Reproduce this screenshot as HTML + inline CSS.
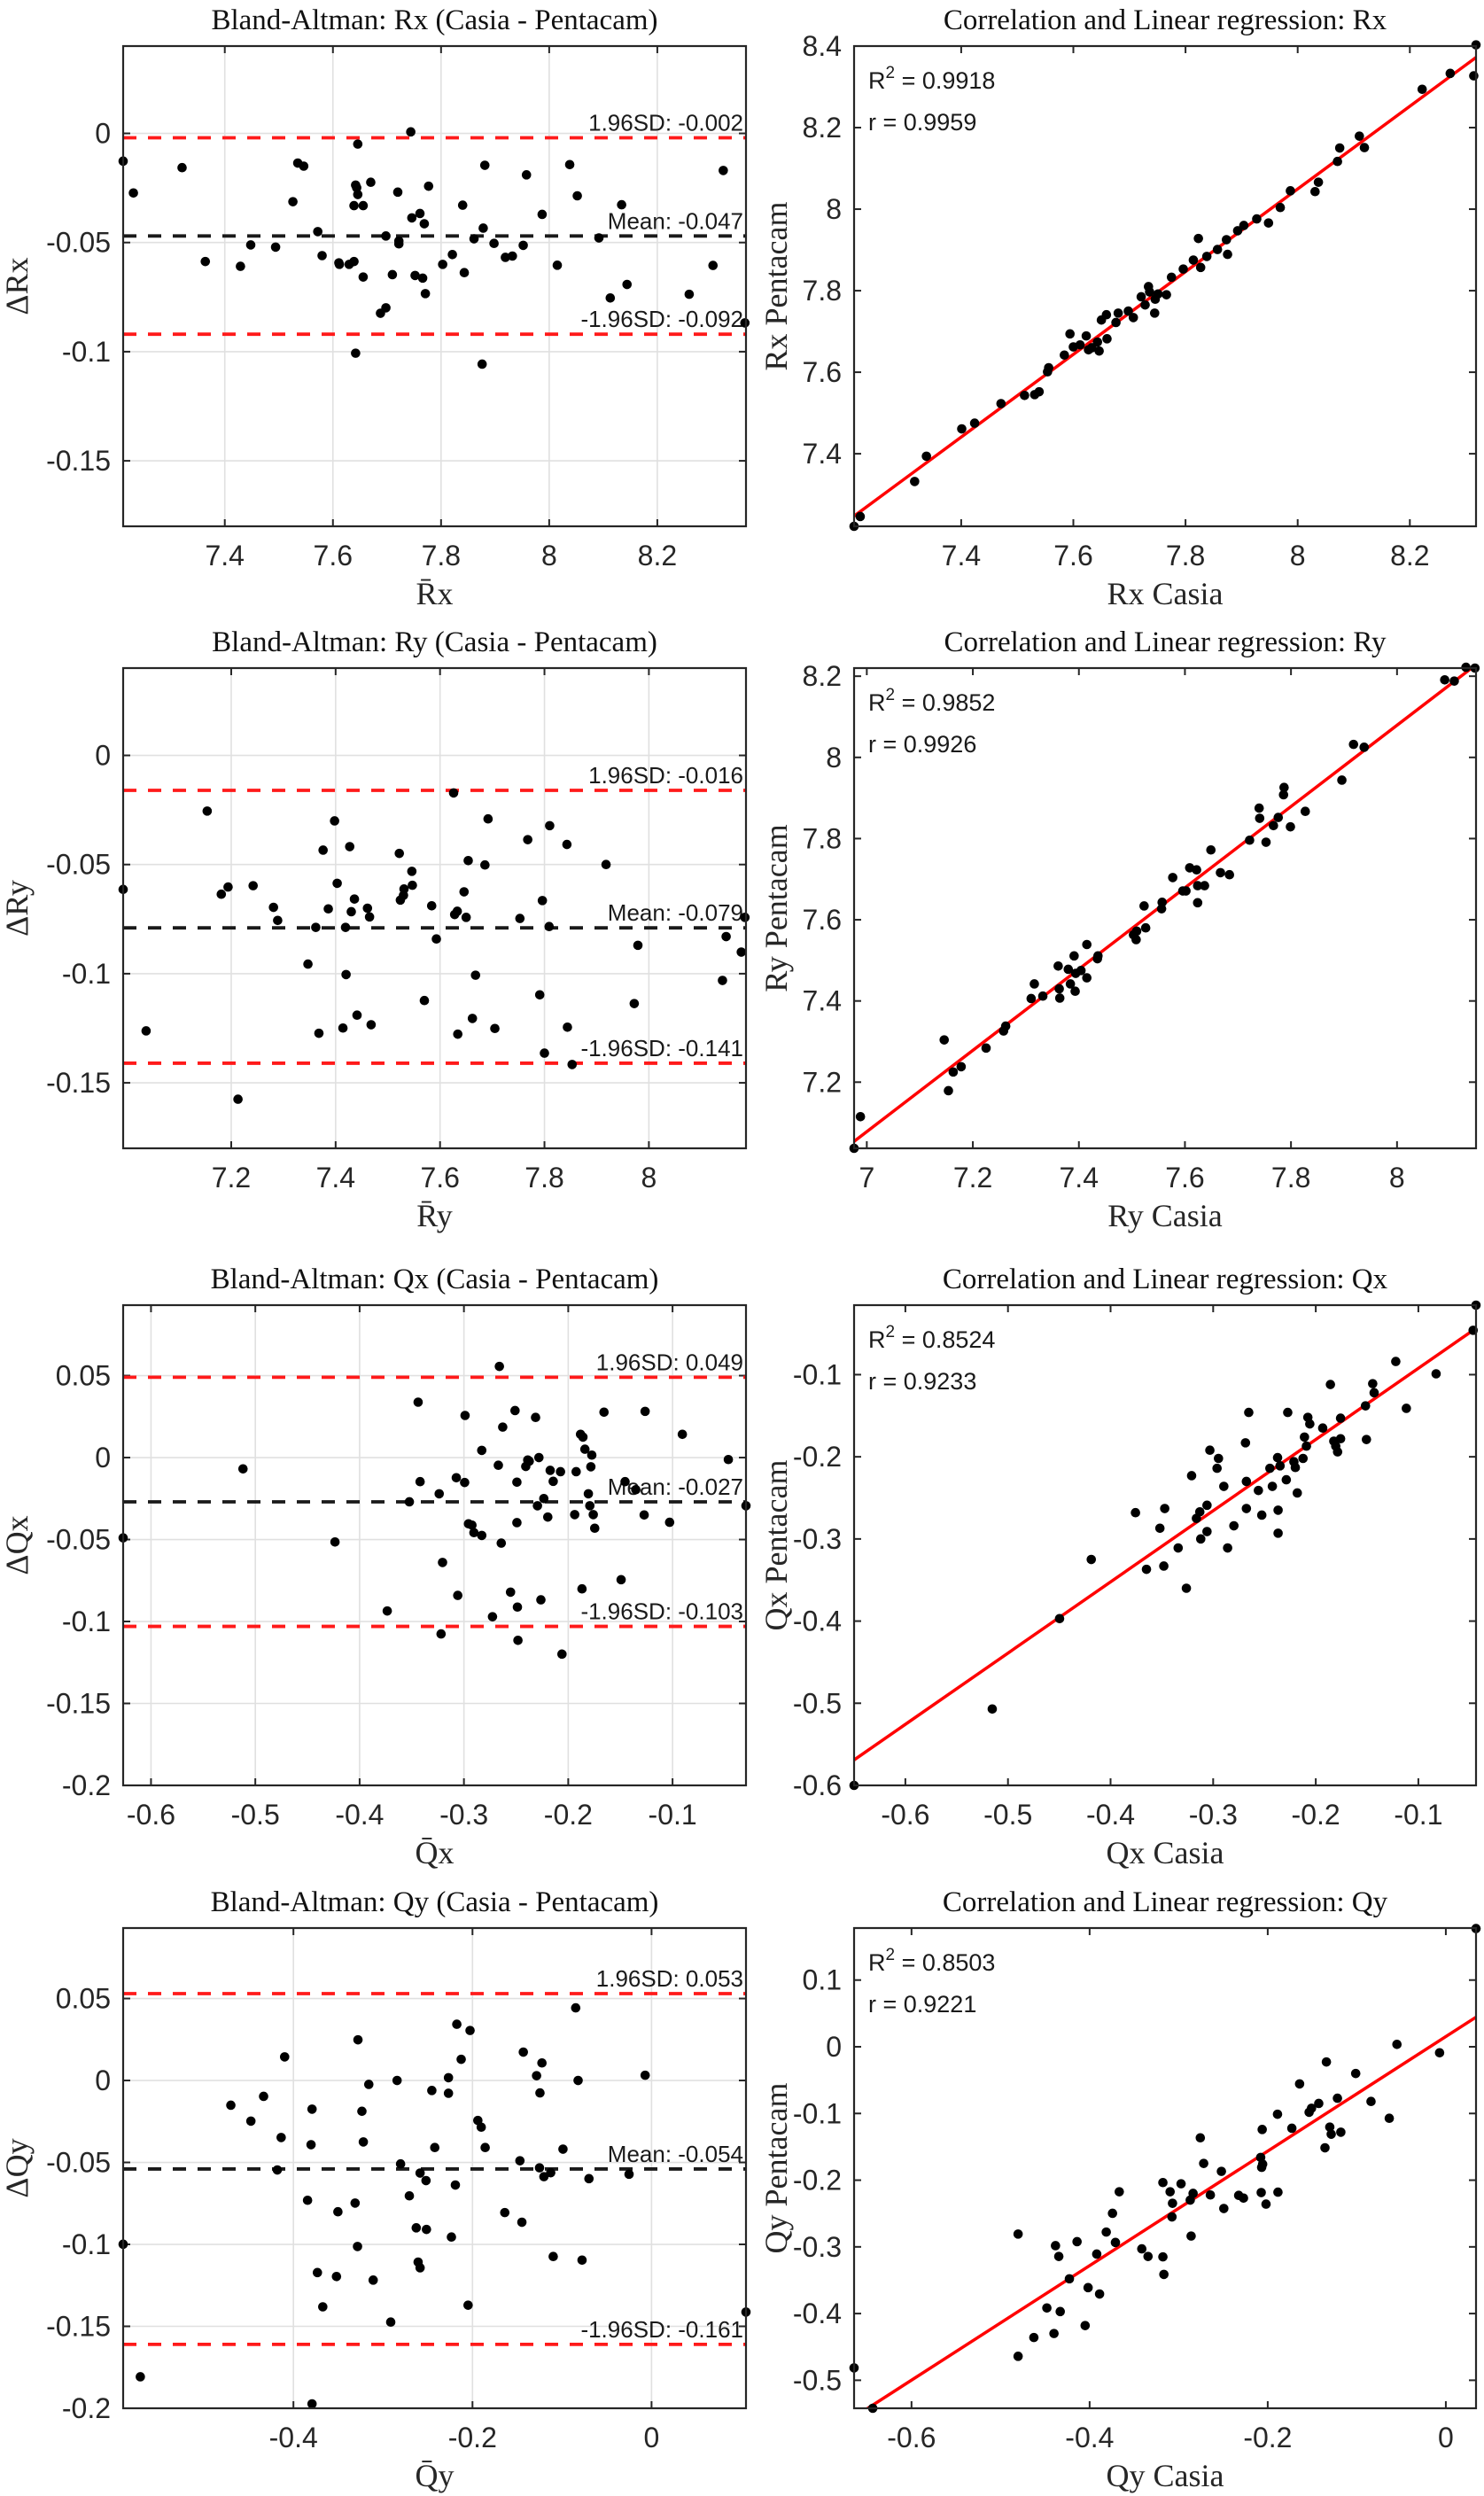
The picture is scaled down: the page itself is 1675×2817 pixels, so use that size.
<!DOCTYPE html>
<html><head><meta charset="utf-8"><style>
html,body{margin:0;padding:0;background:#fff;}
svg{display:block;}
</style></head><body>
<svg id="fig" xmlns="http://www.w3.org/2000/svg" width="1675" height="2817" viewBox="0 0 1675 2817"></svg>
<script>
// ---- Rx Bland-Altman
const rxBaMean=[7.212,7.231,7.321,7.364,7.429,7.448,7.494,7.526,7.535,7.546,7.572,7.580,7.611,7.612,7.630,7.639,7.639,7.642,7.644,7.646,7.646,7.642,7.656,7.656,7.670,7.688,7.698,7.698,7.710,7.720,7.722,7.722,7.746,7.752,7.761,7.766,7.769,7.771,7.777,7.744,7.803,7.821,7.840,7.843,7.861,7.878,7.881,7.876,7.898,7.919,7.932,7.952,7.958,7.987,8.015,8.038,8.052,8.092,8.113,8.134,8.144,8.259,8.303,8.322,8.362];
const rxBaDiff=[-0.0127,-0.0273,-0.0157,-0.0587,-0.0609,-0.0511,-0.0521,-0.0313,-0.0136,-0.0150,-0.0450,-0.0560,-0.0593,-0.0600,-0.0600,-0.0331,-0.0587,-0.0237,-0.0249,-0.0280,-0.0049,-0.1007,-0.0331,-0.0658,-0.0224,-0.0824,-0.0799,-0.0470,-0.0647,-0.0269,-0.0506,-0.0493,-0.0387,-0.0651,-0.0367,-0.0663,-0.0414,-0.0734,-0.0242,0.0007,-0.0600,-0.0555,-0.0329,-0.0638,-0.0483,-0.0434,-0.0146,-0.1057,-0.0504,-0.0568,-0.0562,-0.0513,-0.0190,-0.0371,-0.0604,-0.0143,-0.0286,-0.0479,-0.0754,-0.0327,-0.0692,-0.0737,-0.0605,-0.0170,-0.0868];
const rxBaLines=[-0.002,-0.047,-0.092];
// ---- Rx correlation
const rxCasia=[7.209,7.220,7.317,7.338,7.401,7.424,7.471,7.513,7.531,7.539,7.554,7.556,7.584,7.594,7.600,7.612,7.623,7.627,7.633,7.643,7.646,7.650,7.659,7.660,7.676,7.680,7.698,7.707,7.721,7.728,7.734,7.736,7.745,7.746,7.751,7.766,7.775,7.796,7.814,7.823,7.827,7.838,7.857,7.875,7.873,7.893,7.904,7.927,7.948,7.969,7.987,8.031,8.037,8.071,8.075,8.110,8.119,8.222,8.272,8.314,8.318];
const rxPenta=[7.222,7.246,7.332,7.394,7.461,7.475,7.523,7.543,7.545,7.552,7.601,7.611,7.642,7.694,7.662,7.667,7.689,7.655,7.660,7.674,7.652,7.728,7.741,7.682,7.722,7.745,7.750,7.734,7.785,7.765,7.810,7.797,7.745,7.779,7.792,7.790,7.833,7.853,7.875,7.928,7.857,7.884,7.901,7.889,7.925,7.947,7.960,7.976,7.966,8.004,8.045,8.043,8.066,8.117,8.150,8.179,8.151,8.294,8.333,8.327,8.403];
// ---- Ry Bland-Altman
const ryBaMean=[6.993,7.037,7.154,7.181,7.194,7.213,7.242,7.281,7.289,7.347,7.362,7.368,7.376,7.386,7.398,7.403,7.414,7.419,7.420,7.427,7.430,7.436,7.441,7.461,7.465,7.468,7.522,7.524,7.530,7.531,7.546,7.547,7.570,7.584,7.593,7.626,7.628,7.633,7.634,7.646,7.650,7.654,7.662,7.668,7.686,7.692,7.705,7.753,7.768,7.791,7.796,7.800,7.809,7.810,7.843,7.844,7.853,7.918,7.972,7.979,8.141,8.148,8.177,8.184];
const ryBaDiff=[-0.0614,-0.1262,-0.0255,-0.0636,-0.0603,-0.1575,-0.0597,-0.0696,-0.0756,-0.0956,-0.0788,-0.1273,-0.0434,-0.0703,-0.0300,-0.0586,-0.1249,-0.0788,-0.1004,-0.0418,-0.0716,-0.0658,-0.1190,-0.0700,-0.0740,-0.1234,-0.0449,-0.0663,-0.0641,-0.0612,-0.0531,-0.0595,-0.1123,-0.0689,-0.0841,-0.0172,-0.0729,-0.0714,-0.1277,-0.0625,-0.0742,-0.0482,-0.1205,-0.1007,-0.0502,-0.0291,-0.1251,-0.0747,-0.0386,-0.1097,-0.0665,-0.1364,-0.0784,-0.0322,-0.0408,-0.1245,-0.1416,-0.0500,-0.1137,-0.0870,-0.1031,-0.0830,-0.0901,-0.0742];
const ryBaLines=[-0.016,-0.079,-0.141];
// ---- Ry correlation
const ryCasia=[6.976,6.988,7.146,7.154,7.163,7.178,7.225,7.258,7.262,7.310,7.316,7.332,7.361,7.363,7.364,7.380,7.384,7.391,7.393,7.394,7.404,7.415,7.415,7.435,7.436,7.503,7.508,7.509,7.523,7.526,7.556,7.557,7.577,7.596,7.602,7.609,7.622,7.624,7.624,7.637,7.649,7.667,7.684,7.722,7.740,7.741,7.753,7.767,7.776,7.786,7.787,7.799,7.827,7.896,7.918,7.938,8.090,8.108,8.130,8.147];
const ryPenta=[7.037,7.115,7.304,7.179,7.225,7.238,7.284,7.326,7.338,7.406,7.442,7.412,7.486,7.430,7.407,7.478,7.442,7.511,7.424,7.468,7.475,7.539,7.457,7.504,7.511,7.563,7.551,7.572,7.634,7.580,7.627,7.643,7.704,7.671,7.671,7.728,7.723,7.642,7.684,7.684,7.772,7.716,7.711,7.796,7.875,7.850,7.791,7.832,7.852,7.908,7.926,7.829,7.867,7.944,8.032,8.025,8.191,8.188,8.222,8.220];
// ---- Qx Bland-Altman
const qxBaMean=[-0.6267,-0.5118,-0.4236,-0.3735,-0.3523,-0.3439,-0.3420,-0.3237,-0.3205,-0.3219,-0.3073,-0.3059,-0.2993,-0.2989,-0.2956,-0.2923,-0.2904,-0.2829,-0.2829,-0.2670,-0.2660,-0.2642,-0.2628,-0.2726,-0.2553,-0.2510,-0.2492,-0.2492,-0.2487,-0.2482,-0.2407,-0.2388,-0.2374,-0.2313,-0.2295,-0.2281,-0.2262,-0.2234,-0.2196,-0.2173,-0.2144,-0.2074,-0.2060,-0.1938,-0.1924,-0.1882,-0.1868,-0.1859,-0.1840,-0.1807,-0.1793,-0.1783,-0.1774,-0.1760,-0.1746,-0.1657,-0.1493,-0.1455,-0.1352,-0.1272,-0.1263,-0.1028,-0.0906,-0.0465,-0.0296];
const qxBaDiff=[-0.0490,-0.0069,-0.0515,-0.0936,-0.0270,0.0338,-0.0147,-0.0221,-0.0640,-0.1076,-0.0123,-0.0841,-0.0152,0.0257,-0.0404,-0.0412,-0.0458,0.0044,-0.0475,-0.0047,0.0556,-0.0522,0.0186,-0.0971,-0.0821,0.0287,-0.0150,-0.0397,-0.0912,-0.1115,-0.0054,-0.0015,-0.0022,0.0245,-0.0294,0.0000,-0.0868,-0.0250,-0.0363,-0.0078,-0.0145,-0.0086,-0.1199,-0.0348,-0.0086,0.0142,-0.0801,0.0125,0.0051,-0.0221,-0.0294,-0.0056,0.0015,-0.0348,-0.0431,0.0277,-0.0745,-0.0147,-0.0196,-0.0350,0.0282,-0.0395,0.0142,-0.0012,-0.0294];
const qxBaLines=[0.049,-0.027,-0.103];
// ---- Qx correlation
const qxCasia=[-0.650,-0.5153,-0.4497,-0.4188,-0.3757,-0.3650,-0.3519,-0.3481,-0.3472,-0.3341,-0.3261,-0.3210,-0.3163,-0.3130,-0.3121,-0.3060,-0.3060,-0.3032,-0.2962,-0.2948,-0.2896,-0.2859,-0.2798,-0.2685,-0.2676,-0.2676,-0.2653,-0.2559,-0.2526,-0.2447,-0.2423,-0.2372,-0.2367,-0.2367,-0.2348,-0.2287,-0.2273,-0.2213,-0.2199,-0.2180,-0.2124,-0.2110,-0.2091,-0.2077,-0.2058,-0.1932,-0.1857,-0.1824,-0.1805,-0.1787,-0.1758,-0.1758,-0.1515,-0.1506,-0.1445,-0.1431,-0.1220,-0.1117,-0.0827,-0.0466,-0.0438];
const qxPenta=[-0.600,-0.507,-0.397,-0.325,-0.268,-0.337,-0.287,-0.333,-0.263,-0.311,-0.360,-0.223,-0.275,-0.267,-0.300,-0.259,-0.291,-0.192,-0.214,-0.202,-0.236,-0.311,-0.284,-0.183,-0.230,-0.263,-0.146,-0.241,-0.271,-0.214,-0.236,-0.201,-0.265,-0.293,-0.211,-0.228,-0.146,-0.206,-0.213,-0.244,-0.202,-0.176,-0.187,-0.152,-0.160,-0.165,-0.112,-0.181,-0.187,-0.194,-0.153,-0.178,-0.138,-0.179,-0.111,-0.122,-0.084,-0.141,-0.099,-0.046,-0.0154];
// ---- Qy Bland-Altman
const qyBaMean=[-0.5902,-0.5710,-0.4699,-0.4475,-0.4333,-0.4180,-0.4137,-0.4098,-0.3842,-0.3803,-0.3792,-0.3792,-0.3732,-0.3672,-0.3519,-0.3503,-0.3311,-0.3284,-0.3279,-0.3219,-0.3235,-0.3158,-0.3109,-0.2913,-0.2842,-0.2803,-0.2705,-0.2628,-0.2607,-0.2585,-0.2585,-0.2519,-0.2514,-0.2454,-0.2421,-0.2268,-0.2268,-0.2235,-0.2191,-0.2175,-0.2126,-0.2049,-0.2027,-0.1940,-0.1902,-0.1858,-0.1639,-0.1470,-0.1448,-0.1432,-0.1284,-0.1251,-0.1246,-0.1224,-0.1202,-0.1126,-0.1098,-0.0989,-0.0847,-0.0820,-0.0776,-0.0699,-0.0251,-0.0071,0.1055];
const qyBaDiff=[-0.0999,-0.1808,-0.0151,-0.0248,-0.0097,-0.0546,-0.0348,0.0144,-0.0731,-0.0392,-0.0175,-0.1973,-0.1172,-0.1381,-0.1196,-0.0801,-0.0748,-0.1013,0.0248,-0.0375,-0.0188,-0.0024,-0.1218,-0.1474,0.0000,-0.0509,-0.0704,-0.0899,-0.1108,-0.0565,-0.1143,-0.0611,-0.0909,-0.0061,-0.0409,0.0017,-0.0078,-0.0955,-0.0638,0.0343,0.0129,-0.1371,0.0305,-0.0244,-0.0285,-0.0409,-0.0806,-0.0490,-0.0865,0.0173,0.0029,-0.0533,-0.0076,0.0107,-0.0587,-0.0563,-0.1074,-0.0419,0.0443,0.0000,-0.1096,-0.0599,-0.0572,0.0032,-0.1413];
const qyBaLines=[0.053,-0.054,-0.161];
// ---- Qy correlation
const qyCasia=[-0.6645,-0.6435,-0.4803,-0.4803,-0.4626,-0.4480,-0.4400,-0.4383,-0.4346,-0.4330,-0.4227,-0.4141,-0.4050,-0.4017,-0.3920,-0.3888,-0.3813,-0.3743,-0.3710,-0.3667,-0.3414,-0.3344,-0.3177,-0.3177,-0.3166,-0.3096,-0.3075,-0.3069,-0.2973,-0.2870,-0.2860,-0.2838,-0.2757,-0.2719,-0.2644,-0.2520,-0.2493,-0.2326,-0.2272,-0.2079,-0.2073,-0.2068,-0.2062,-0.2057,-0.2019,-0.1890,-0.1885,-0.1729,-0.1642,-0.1535,-0.1508,-0.1427,-0.1357,-0.1341,-0.1303,-0.1287,-0.1217,-0.1179,-0.1012,-0.0840,-0.0635,-0.0549,-0.0070,0.0339];
const qyPenta=[-0.4814,-0.5420,-0.2808,-0.4641,-0.4359,-0.3916,-0.4299,-0.2982,-0.3144,-0.3970,-0.3479,-0.2922,-0.4180,-0.3611,-0.3108,-0.3707,-0.2778,-0.2497,-0.2934,-0.2174,-0.3030,-0.3144,-0.2036,-0.3150,-0.3413,-0.2174,-0.2551,-0.2347,-0.2054,-0.2299,-0.2838,-0.2198,-0.1365,-0.1749,-0.2222,-0.1868,-0.2425,-0.2228,-0.2269,-0.1659,-0.2186,-0.1808,-0.1240,-0.1760,-0.2359,-0.1012,-0.2180,-0.1222,-0.0557,-0.0982,-0.0922,-0.0850,-0.1515,-0.0228,-0.1204,-0.1311,-0.0772,-0.1281,-0.0401,-0.0820,-0.1072,0.0036,-0.0090,0.1772];
// ---- tick values
const baRTicksY=[0,-0.05,-0.1,-0.15];
const baRTickLabelsY=["0","-0.05","-0.1","-0.15"];
const baQTicksY=[0.05,0,-0.05,-0.1,-0.15,-0.2];
const baQTickLabelsY=["0.05","0","-0.05","-0.1","-0.15","-0.2"];
const rxTicksX=[7.4,7.6,7.8,8,8.2];
const rxTickLabelsX=["7.4","7.6","7.8","8","8.2"];
const rxTicksY=[7.4,7.6,7.8,8,8.2,8.4];
const rxTickLabelsY=["7.4","7.6","7.8","8","8.2","8.4"];
const ryBaTicksX=[7.2,7.4,7.6,7.8,8];
const ryBaTickLabelsX=["7.2","7.4","7.6","7.8","8"];
const ryTicksX=[7,7.2,7.4,7.6,7.8,8];
const ryTickLabelsX=["7","7.2","7.4","7.6","7.8","8"];
const ryTicksY=[7.2,7.4,7.6,7.8,8,8.2];
const ryTickLabelsY=["7.2","7.4","7.6","7.8","8","8.2"];
const qxTicksX=[-0.6,-0.5,-0.4,-0.3,-0.2,-0.1];
const qxTickLabelsX=["-0.6","-0.5","-0.4","-0.3","-0.2","-0.1"];
const qxTicksY=[-0.6,-0.5,-0.4,-0.3,-0.2,-0.1];
const qxTickLabelsY=["-0.6","-0.5","-0.4","-0.3","-0.2","-0.1"];
const qyBaTicksX=[-0.4,-0.2,0];
const qyBaTickLabelsX=["-0.4","-0.2","0"];
const qyTicksX=[-0.6,-0.4,-0.2,0];
const qyTickLabelsX=["-0.6","-0.4","-0.2","0"];
const qyTicksY=[-0.5,-0.4,-0.3,-0.2,-0.1,0,0.1];
const qyTickLabelsY=["-0.5","-0.4","-0.3","-0.2","-0.1","0","0.1"];
const statR2=["0.9918","0.9852","0.8524","0.8503"];
const statR=["0.9959","0.9926","0.9233","0.9221"];

const NS="http://www.w3.org/2000/svg";
const svg=document.getElementById('fig');
function mk(tag,attrs,parent){const e=document.createElementNS(NS,tag);for(const k in attrs)e.setAttribute(k,attrs[k]);(parent||svg).appendChild(e);return e;}
const SANS='"Liberation Sans", Arial, sans-serif';
const SERIF='"Liberation Serif", "Times New Roman", serif';
const COLX=[[139,842],[964,1666]];
const ROWY=[52,754,1473,2176];
const H=542;
let clipId=0;

function panel(c){
  const g=mk('g',{});
  
  
  const x0=c.x0,x1=c.x1,y0=c.y0,y1=c.y0+H;
  const sx=v=>x0+(v-c.xmin)/(c.xmax-c.xmin)*(x1-x0);
  const sy=v=>y1-(v-c.ymin)/(c.ymax-c.ymin)*(y1-y0);
  if(c.grid){
    c.xt.forEach(v=>{const l=mk('line',{x1:sx(v),x2:sx(v),y1:y0,y2:y1,stroke:'#e0e0e0','stroke-width':1.6},g);
      
      });
    c.yt.forEach(v=>{const l=mk('line',{x1:x0,x2:x1,y1:sy(v),y2:sy(v),stroke:'#e0e0e0','stroke-width':1.6},g);
      
      });
  }
  c.xt.forEach((v,i)=>{
    const X=sx(v);
    mk('line',{x1:X,x2:X,y1:y1,y2:y1-8,stroke:'#262626','stroke-width':2},g);
    mk('line',{x1:X,x2:X,y1:y0,y2:y0+8,stroke:'#262626','stroke-width':2},g);
    const t=mk('text',{x:X,y:y1+44,'text-anchor':'middle','font-family':SANS,'font-size':32,fill:'#262626'},g);
    t.textContent=c.xtl[i];
    
    
  });
  c.yt.forEach((v,i)=>{
    const Y=sy(v);
    mk('line',{x1:x0,x2:x0+8,y1:Y,y2:Y,stroke:'#262626','stroke-width':2},g);
    mk('line',{x1:x1,x2:x1-8,y1:Y,y2:Y,stroke:'#262626','stroke-width':2},g);
    const t=mk('text',{x:x0-14,y:Y+11,'text-anchor':'end','font-family':SANS,'font-size':32,fill:'#262626'},g);
    t.textContent=c.ytl[i];
    
    
  });
  const id='clip'+(clipId++);
  const cp=mk('clipPath',{id:id},g);
  mk('rect',{x:x0,y:y0,width:x1-x0,height:H},cp);
  if(c.lines){
    const cols=['#ff1a1a','#1a1a1a','#ff1a1a'];
    const names=['upper-loa-line','mean-line','lower-loa-line'];
    const labs=['1.96SD: ','Mean: ','-1.96SD: '];
    c.lines.forEach((v,i)=>{
      const Y=sy(v);
      const l=mk('line',{x1:x0,x2:x1,y1:Y,y2:Y,stroke:cols[i],'stroke-width':3.8,'stroke-dasharray':'15 13'},g);
      
      
      const t=mk('text',{x:x1-3,y:Y-8,'text-anchor':'end','font-family':SANS,'font-size':26,fill:'#1a1a1a'},g);
      t.textContent=labs[i]+v.toFixed(3);
      
      
    });
  }
  if(c.fit){
    const n=c.xs.length;let mx=0,my=0;for(let i=0;i<n;i++){mx+=c.xs[i];my+=c.ys[i];}mx/=n;my/=n;
    let sxy=0,sxx=0;for(let i=0;i<n;i++){sxy+=(c.xs[i]-mx)*(c.ys[i]-my);sxx+=(c.xs[i]-mx)**2;}
    const b=sxy/sxx,a=my-b*mx;
    const l=mk('line',{x1:sx(c.xmin),y1:sy(a+b*c.xmin),x2:sx(c.xmax),y2:sy(a+b*c.xmax),stroke:'#ff0000','stroke-width':3.5,'clip-path':'url(#'+id+')'},g);
    
    
    const t1=mk('text',{x:x0+16,y:y0+48,'font-family':SANS,'font-size':27,fill:'#1a1a1a'},g);
    t1.innerHTML='R<tspan dy="-12" font-size="19">2</tspan><tspan dy="12"> = '+c.r2+'</tspan>';
    
    
    const t2=mk('text',{x:x0+16,y:y0+95,'font-family':SANS,'font-size':27,fill:'#1a1a1a'},g);
    t2.textContent='r = '+c.r;
    
    
  }
  for(let i=0;i<c.xs.length;i++){
    const p=mk('circle',{cx:sx(c.xs[i]),cy:sy(c.ys[i]),r:5.3,fill:'#000'},g);
    
    
  }
  const bx=mk('rect',{x:x0,y:y0,width:x1-x0,height:H,fill:'none',stroke:'#262626','stroke-width':2.2},g);
  
  
  const tt=mk('text',{x:(x0+x1)/2,y:y0-19,'text-anchor':'middle','font-family':SERIF,'font-size':33,fill:'#111'},g);
  tt.textContent=c.title;
  
  
  const xl=mk('text',{x:(x0+x1)/2,y:y1+88,'text-anchor':'middle','font-family':SERIF,'font-size':36,fill:'#262626'},g);
  xl.textContent=c.xlabel;
  
  
  const yc=(y0+y1)/2;
  const yl=mk('text',{x:c.ylx,y:yc,'text-anchor':'middle','font-family':SERIF,'font-size':36,fill:'#262626',transform:'rotate(-90 '+c.ylx+' '+yc+')','dominant-baseline':'central'},g);
  yl.textContent=c.ylabel;
  
  
}

const L=COLX[0],R=COLX[1];
panel({name:'bland-altman-rx',x0:L[0],x1:L[1],y0:ROWY[0],xmin:7.212,xmax:8.364,ymin:-0.18,ymax:0.04,xt:rxTicksX,xtl:rxTickLabelsX,yt:baRTicksY,ytl:baRTickLabelsY,grid:true,xs:rxBaMean,ys:rxBaDiff,lines:rxBaLines,title:'Bland-Altman: Rx (Casia - Pentacam)',xlabel:'R\u0304x',ylabel:'\u0394Rx',ylx:19});
panel({name:'correlation-rx',x0:R[0],x1:R[1],y0:ROWY[0],xmin:7.209,xmax:8.318,ymin:7.222,ymax:8.40,xt:rxTicksX,xtl:rxTickLabelsX,yt:rxTicksY,ytl:rxTickLabelsY,grid:false,xs:rxCasia,ys:rxPenta,fit:true,r2:statR2[0],r:statR[0],title:'Correlation and Linear regression: Rx',xlabel:'Rx Casia',ylabel:'Rx Pentacam',ylx:876});
panel({name:'bland-altman-ry',x0:L[0],x1:L[1],y0:ROWY[1],xmin:6.993,xmax:8.186,ymin:-0.18,ymax:0.04,xt:ryBaTicksX,xtl:ryBaTickLabelsX,yt:baRTicksY,ytl:baRTickLabelsY,grid:true,xs:ryBaMean,ys:ryBaDiff,lines:ryBaLines,title:'Bland-Altman: Ry (Casia - Pentacam)',xlabel:'R\u0304y',ylabel:'\u0394Ry',ylx:19});
panel({name:'correlation-ry',x0:R[0],x1:R[1],y0:ROWY[1],xmin:6.976,xmax:8.149,ymin:7.037,ymax:8.22,xt:ryTicksX,xtl:ryTickLabelsX,yt:ryTicksY,ytl:ryTickLabelsY,grid:false,xs:ryCasia,ys:ryPenta,fit:true,r2:statR2[1],r:statR[1],title:'Correlation and Linear regression: Ry',xlabel:'Ry Casia',ylabel:'Ry Pentacam',ylx:876});
panel({name:'bland-altman-qx',x0:L[0],x1:L[1],y0:ROWY[2],xmin:-0.6267,xmax:-0.0296,ymin:-0.2,ymax:0.093,xt:qxTicksX,xtl:qxTickLabelsX,yt:baQTicksY,ytl:baQTickLabelsY,grid:true,xs:qxBaMean,ys:qxBaDiff,lines:qxBaLines,title:'Bland-Altman: Qx (Casia - Pentacam)',xlabel:'Q\u0304x',ylabel:'\u0394Qx',ylx:19});
panel({name:'correlation-qx',x0:R[0],x1:R[1],y0:ROWY[2],xmin:-0.650,xmax:-0.0438,ymin:-0.6,ymax:-0.0154,xt:qxTicksX,xtl:qxTickLabelsX,yt:qxTicksY,ytl:qxTickLabelsY,grid:false,xs:qxCasia,ys:qxPenta,fit:true,r2:statR2[2],r:statR[2],title:'Correlation and Linear regression: Qx',xlabel:'Qx Casia',ylabel:'Qx Pentacam',ylx:876});
panel({name:'bland-altman-qy',x0:L[0],x1:L[1],y0:ROWY[3],xmin:-0.5902,xmax:0.1055,ymin:-0.2,ymax:0.093,xt:qyBaTicksX,xtl:qyBaTickLabelsX,yt:baQTicksY,ytl:baQTickLabelsY,grid:true,xs:qyBaMean,ys:qyBaDiff,lines:qyBaLines,title:'Bland-Altman: Qy (Casia - Pentacam)',xlabel:'Q\u0304y',ylabel:'\u0394Qy',ylx:19});
panel({name:'correlation-qy',x0:R[0],x1:R[1],y0:ROWY[3],xmin:-0.6645,xmax:0.0339,ymin:-0.542,ymax:0.178,xt:qyTicksX,xtl:qyTickLabelsX,yt:qyTicksY,ytl:qyTickLabelsY,grid:false,xs:qyCasia,ys:qyPenta,fit:true,r2:statR2[3],r:statR[3],title:'Correlation and Linear regression: Qy',xlabel:'Qy Casia',ylabel:'Qy Pentacam',ylx:876});
</script>
</body></html>
